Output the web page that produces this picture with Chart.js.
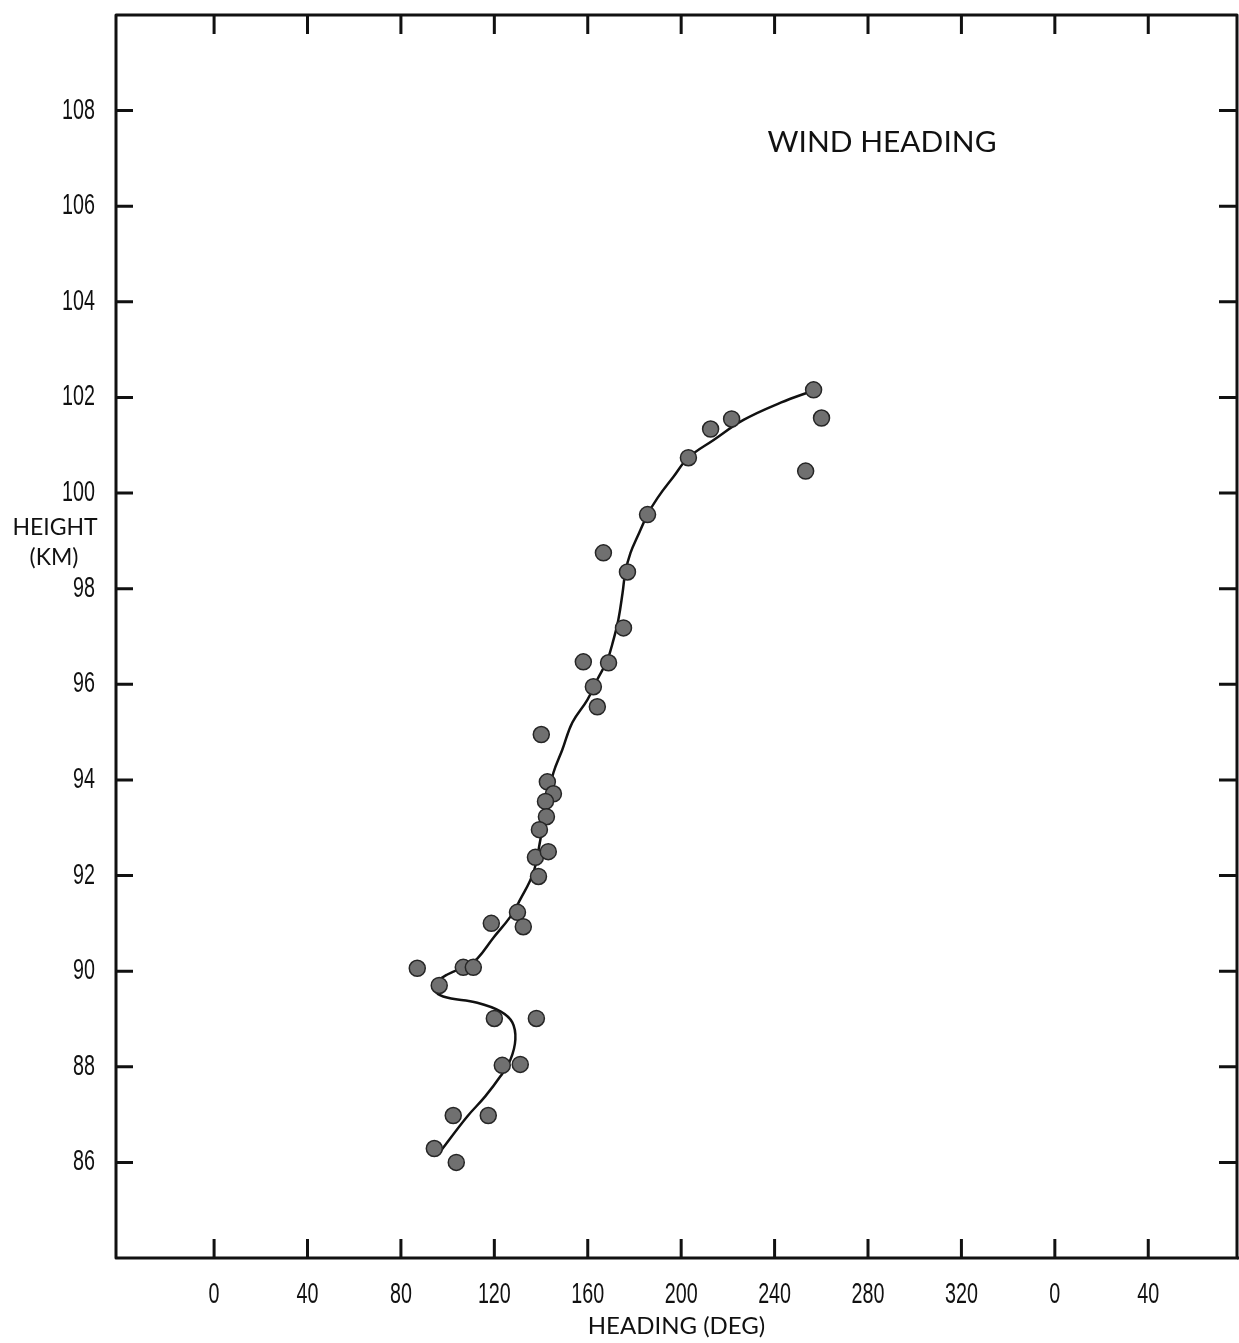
<!doctype html>
<html>
<head>
<title>Wind Heading</title>
<script src="https://cdn.jsdelivr.net/npm/chart.js@4.4.1/dist/chart.umd.min.js"></script>
<style>
  body { margin: 0; background: #fff; }
  canvas { display: block; }
</style>
</head>
<body>
<canvas id="canvas" width="1239" height="1343"></canvas>
<script>
// measured headings (deg) and heights (km)
var obsHeading = [256.7, 260.1, 253.3, 221.6, 212.6, 203.1, 185.6, 166.7, 177.0, 175.3,
  158.1, 168.9, 162.4, 164.1, 140.1, 142.7, 145.3, 141.9, 142.3, 139.3,
  137.6, 143.1, 138.9, 129.9, 132.4, 118.7, 87.0, 106.7, 111.0, 96.4,
  120.0, 138.0, 123.4, 131.1, 102.4, 117.4, 94.3, 103.7];
var obsHeight = [102.16, 101.57, 100.46, 101.55, 101.34, 100.74, 99.55, 98.75, 98.35, 97.18,
  96.47, 96.45, 95.95, 95.53, 94.95, 93.96, 93.71, 93.55, 93.23, 92.96,
  92.38, 92.50, 91.98, 91.23, 90.93, 91.00, 90.06, 90.08, 90.08, 89.70,
  89.01, 89.01, 88.03, 88.05, 86.98, 86.98, 86.29, 86.00];

// hand-faired curve through the observations
var fitHeading = [96.9, 108.4, 116.1, 122.6, 126.9, 129.0, 127.7, 122.6, 112.7, 98.1,
  94.3, 95.6, 99.9, 108.4, 112.7, 119.6, 126.9, 131.1, 136.7, 139.7,
  142.7, 145.3, 149.1, 153.4, 159.9, 164.1, 168.4, 171.0, 173.1, 174.9,
  176.1, 178.3, 181.3, 185.6, 189.9, 196.7, 203.1, 213.9, 226.7, 242.6, 256.3];
var fitHeight = [86.23, 86.96, 87.38, 87.80, 88.15, 88.57, 88.93, 89.16, 89.34, 89.47,
  89.62, 89.78, 89.93, 90.12, 90.26, 90.70, 91.14, 91.50, 92.06, 92.75,
  93.59, 94.15, 94.63, 95.20, 95.68, 96.10, 96.51, 96.93, 97.35, 97.91,
  98.35, 98.75, 99.09, 99.55, 99.90, 100.34, 100.74, 101.11, 101.53, 101.89, 102.14];

var headingTicks = [0, 40, 80, 120, 160, 200, 240, 280, 320, 360, 400];
var heightTicks = [86, 88, 90, 92, 94, 96, 98, 100, 102, 104, 106, 108];

function pairs(xs, ys) {
  return xs.map(function(x, i) { return {x: x, y: ys[i]}; });
}

var digitFont = '29px "Liberation Sans", Arimo, sans-serif';
var digitSqueeze = 0.68;
var labelFamily = 'Lato, "Open Sans", sans-serif';

// narrow digits: draw horizontally squeezed text
function narrowText(ctx, text, x, y, align) {
  var w = ctx.measureText(text).width * digitSqueeze;
  var left = align === 'right' ? x - w : (align === 'center' ? x - w / 2 : x);
  ctx.save();
  ctx.translate(left, y);
  ctx.scale(digitSqueeze, 1);
  ctx.textAlign = 'left';
  ctx.fillText(text, 0, 0);
  ctx.restore();
}

// frame, inward tick marks, tick labels and free text
var framePlugin = {
  id: 'frame',
  afterDraw: function(chart) {
    var ctx = chart.ctx, a = chart.chartArea;
    var xs = chart.scales.x, ys = chart.scales.y;
    ctx.save();
    ctx.strokeStyle = '#111';
    ctx.lineJoin = 'round';
    ctx.lineWidth = 3;
    ctx.strokeRect(a.left, a.top, a.right - a.left, a.bottom - a.top);
    ctx.beginPath();
    ctx.moveTo(a.right, a.bottom);
    ctx.lineTo(chart.width, a.bottom);
    ctx.stroke();

    ctx.beginPath();
    xs.ticks.forEach(function(t) {
      var px = xs.getPixelForValue(t.value);
      ctx.moveTo(px, a.bottom); ctx.lineTo(px, a.bottom - 19);
      ctx.moveTo(px, a.top); ctx.lineTo(px, a.top + 19);
    });
    ys.ticks.forEach(function(t) {
      var py = ys.getPixelForValue(t.value);
      ctx.moveTo(a.left, py); ctx.lineTo(a.left + 17, py);
      ctx.moveTo(a.right, py); ctx.lineTo(a.right - 18, py);
    });
    ctx.stroke();

    ctx.fillStyle = '#111';
    ctx.textBaseline = 'middle';
    ctx.font = digitFont;
    xs.ticks.forEach(function(t) {
      narrowText(ctx, String(t.value % 360), xs.getPixelForValue(t.value), a.bottom + 37, 'center');
    });
    ys.ticks.forEach(function(t) {
      narrowText(ctx, String(t.value), a.left - 21, ys.getPixelForValue(t.value), 'right');
    });

    ctx.textAlign = 'center';
    ctx.font = '23px ' + labelFamily;
    ctx.fillText('HEIGHT', 55, 528);
    ctx.fillText('(KM)', 54, 558);

    // fit the heading caption to its box width
    ctx.font = '29px ' + labelFamily;
    var txt = 'WIND HEADING';
    var w = ctx.measureText(txt).width;
    ctx.translate(882, 143);
    ctx.scale(229 / w, 1);
    ctx.fillText(txt, 0, 0);
    ctx.restore();
  }
};

var config = {
  type: 'scatter',
  data: {
    datasets: [{
      label: 'Observed',
      data: pairs(obsHeading, obsHeight),
      order: 0,
      pointRadius: 8,
      pointBackgroundColor: '#707070',
      pointBorderColor: '#262626',
      pointBorderWidth: 1.5,
      showLine: false
    }, {
      label: 'Fit',
      data: pairs(fitHeading, fitHeight),
      order: 1,
      showLine: true,
      pointRadius: 0,
      borderColor: '#111',
      borderWidth: 2.5,
      tension: 0.4,
      fill: false
    }]
  },
  options: {
    responsive: false,
    devicePixelRatio: 1,
    animation: false,
    layout: {autoPadding: false, padding: {left: 0, top: 15, right: 2, bottom: 0}},
    plugins: {
      legend: {display: false},
      tooltip: {enabled: false}
    },
    scales: {
      x: {
        type: 'linear',
        position: 'bottom',
        min: -42,
        max: 438,
        grid: {display: false},
        border: {display: false},
        afterBuildTicks: function(scale) {
          scale.ticks = headingTicks.map(function(v) { return {value: v}; });
        },
        afterFit: function(scale) {
          scale.height = 85;
          scale.paddingLeft = 0;
          scale.paddingRight = 0;
        },
        ticks: {display: false},
        title: {
          display: true,
          text: 'HEADING (DEG)',
          color: '#111',
          font: {family: labelFamily, size: 24},
          padding: {top: 0, bottom: 2}
        }
      },
      y: {
        type: 'linear',
        position: 'left',
        min: 84,
        max: 110,
        grid: {display: false},
        border: {display: false},
        afterBuildTicks: function(scale) {
          scale.ticks = heightTicks.map(function(v) { return {value: v}; });
        },
        afterFit: function(scale) {
          scale.width = 116;
          scale.paddingTop = 0;
          scale.paddingBottom = 0;
        },
        ticks: {display: false}
      }
    }
  },
  plugins: [framePlugin]
};

window.onload = function() {
  window.myChart = new Chart(document.getElementById('canvas'), config);
};
</script>
</body>
</html>
